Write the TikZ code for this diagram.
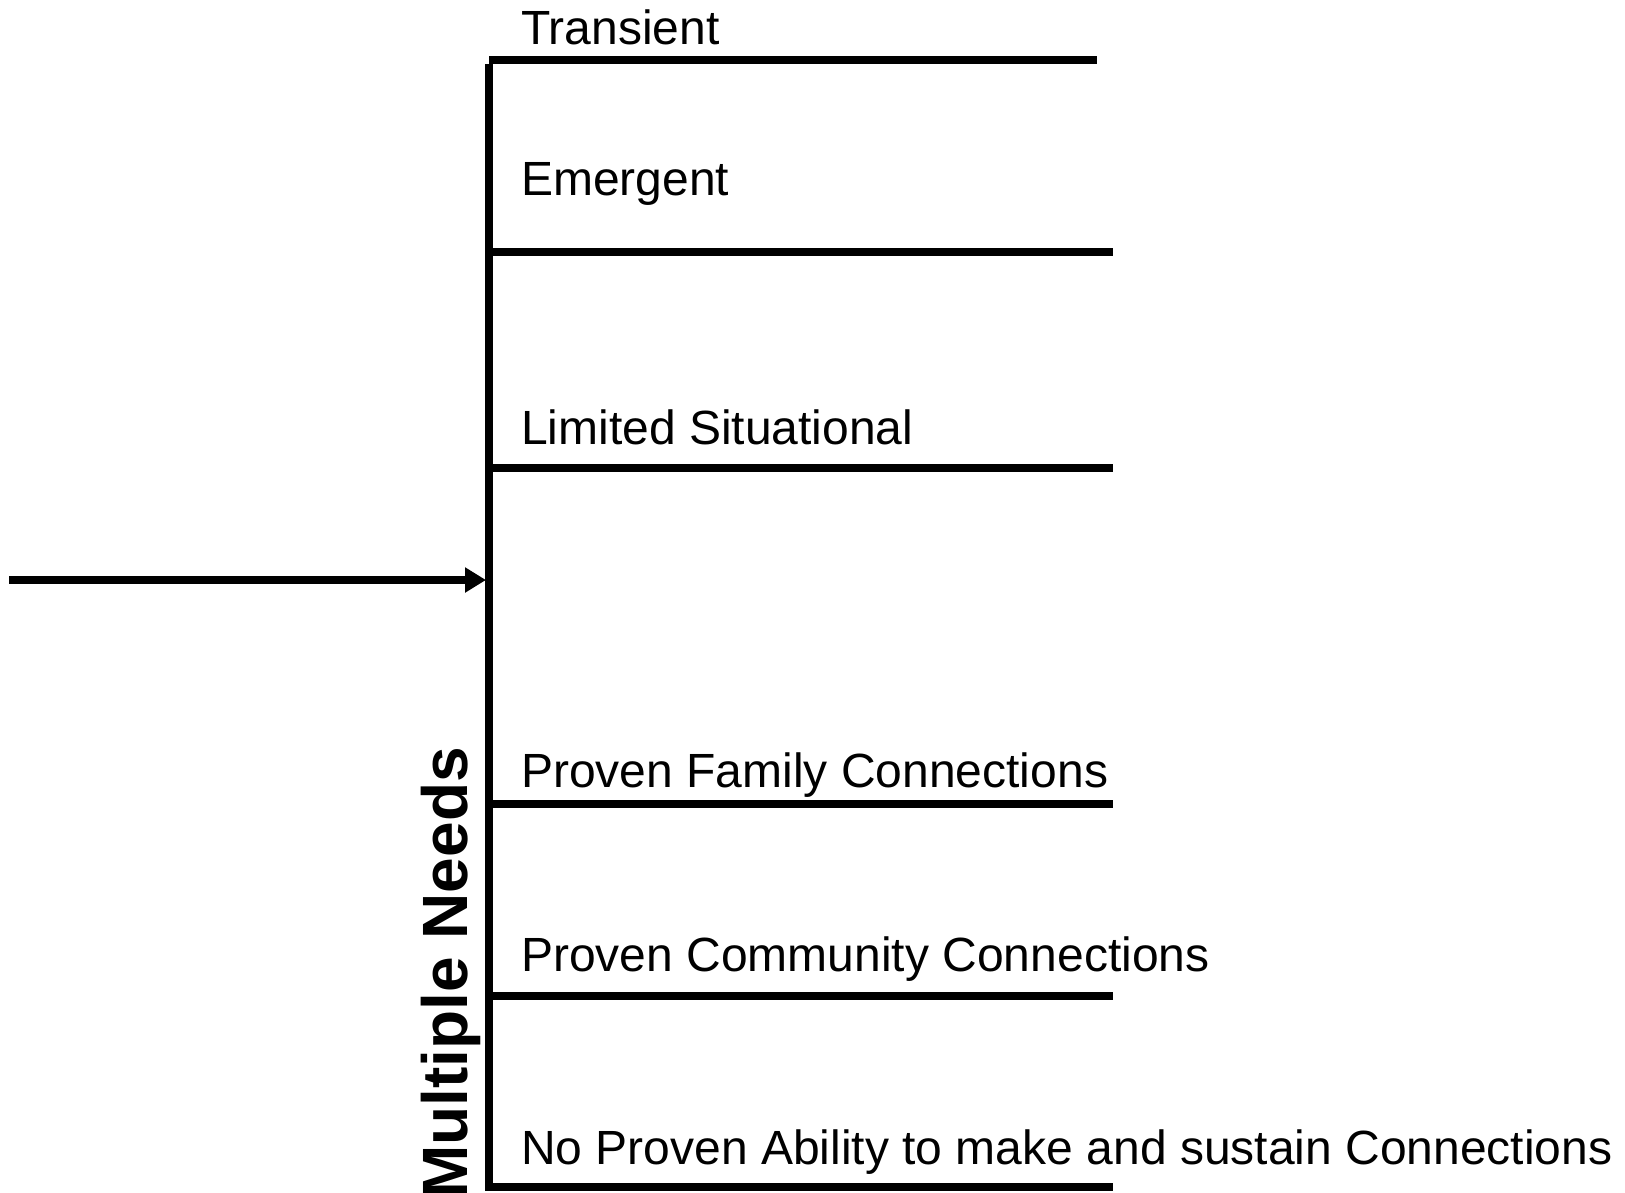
\documentclass[tikz,border=0pt]{standalone}
\usepackage{fontspec}
\setmainfont{Liberation Sans}
\usetikzlibrary{arrows.meta,positioning}

\begin{document}
\begin{tikzpicture}[x=1pt,y=-1pt]
\tikzstyle{every node}+=[inner sep=0pt]
\tikzstyle{rung}=[black,line width=7.8pt]
\tikzstyle{lbl}=[anchor=base west,font=\fontsize{48}{58}\selectfont]
\useasboundingbox (0,0) rectangle (1625,1192);
% spine
\coordinate (spinetop) at (489,64);
\coordinate (spinebot) at (489,1191);
\draw [rung] (spinetop) -- (spinebot);
% rungs
\coordinate (t0) at (489,60);   \coordinate (t1) at (1097,60);
\coordinate (e0) at (489,252);  \coordinate (e1) at (1113,252);
\coordinate (l0) at (489,468);  \coordinate (l1) at (1113,468);
\coordinate (f0) at (489,804);  \coordinate (f1) at (1113,804);
\coordinate (c0) at (489,996);  \coordinate (c1) at (1113,996);
\coordinate (n0) at (485,1187); \coordinate (n1) at (1113,1187);
\draw [rung] (t0) -- (t1);
\draw [rung] (e0) -- (e1);
\draw [rung] (l0) -- (l1);
\draw [rung] (f0) -- (f1);
\draw [rung] (c0) -- (c1);
\draw [rung] (n0) -- (n1);
% labels
\node [lbl] (transient) at (521,44) {Transient};
\node [lbl] (emergent) at (521,195) {Emergent};
\node [lbl] (limited) at (521,444) {Limited Situational};
\node [lbl] (family) at (521,787) {Proven Family Connections};
\node [lbl] (community) at (521,971) {Proven Community Connections};
\node [lbl] (noproven) at (521,1164) {No Proven Ability to make and sustain Connections};
\node [rotate=90,anchor=base east,font=\fontsize{64}{77}\selectfont\bfseries] (needs) at (467,747) {Multiple Needs};
% entry arrow
\coordinate (entry) at (9,580);
\coordinate (hit) at (486,580);
\draw [black,line width=7.2pt,-{Triangle[length=21pt,width=24pt]}] (entry) -- (hit);
\end{tikzpicture}
\end{document}
